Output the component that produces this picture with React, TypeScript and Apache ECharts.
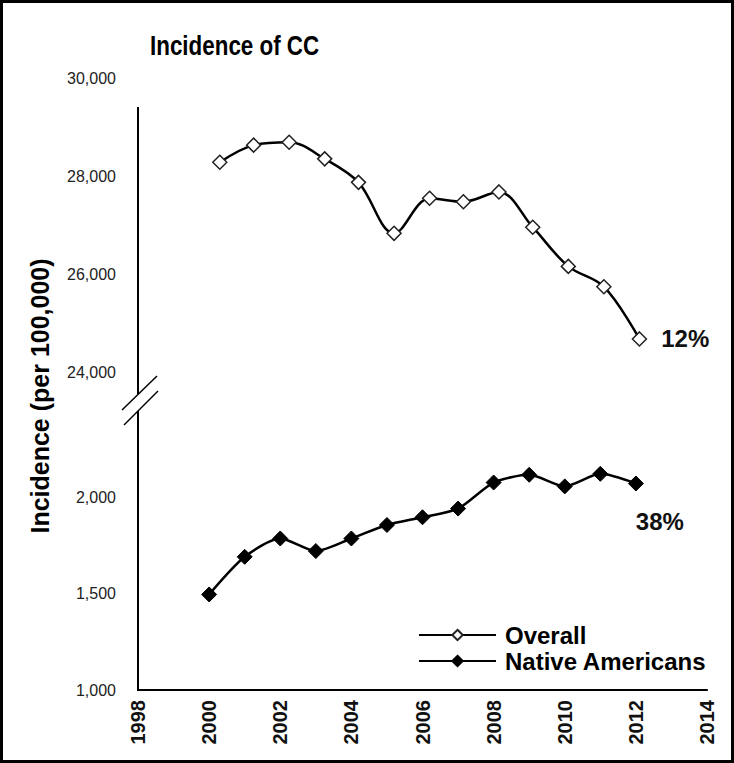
import React, { useEffect, useRef } from "react";
import * as echarts from "echarts";

const years = [2000, 2001, 2002, 2003, 2004, 2005, 2006, 2007, 2008, 2009, 2010, 2011, 2012];
const overallYears = [2000.3, 2001.25, 2002.25, 2003.25, 2004.2, 2005.2, 2006.2, 2007.15, 2008.15, 2009.1, 2010.1, 2011.1, 2012.1];
const overallValues = [28280, 28630, 28690, 28350, 27870, 26830, 27545, 27475, 27675, 26955, 26155, 25740, 24675];
const nativeValues = [1495, 1690, 1785, 1720, 1785, 1855, 1895, 1940, 2075, 2115, 2055, 2120, 2070];
const overallChange = "12%";
const nativeChange = "38%";
const seriesNames = ["Overall", "Native Americans"];
const titleText = "Incidence of CC";
const yAxisTitle = "Incidence (per 100,000)";

const FONT = "'Liberation Sans', Arial, sans-serif";

export default function App() {
  const ref = useRef<HTMLDivElement>(null);
  useEffect(() => {
    if (!ref.current) return;
    const chart = echarts.init(ref.current, undefined, { renderer: "svg" });
    const last = overallValues.length - 1;
    const overallData = overallValues.map((v, i) =>
      i === last
        ? {
            value: [overallYears[i], v],
            label: {
              show: true,
              position: "right",
              distance: 14,
              formatter: overallChange,
              fontFamily: FONT,
              fontWeight: "bold",
              fontSize: 24,
              color: "#111",
            },
          }
        : [overallYears[i], v]
    );
    const nativeData = nativeValues.map((v, i) =>
      i === last
        ? {
            value: [years[i], v],
            label: {
              show: true,
              position: "bottom",
              distance: 18,
              offset: [24, 0],
              formatter: nativeChange,
              fontFamily: FONT,
              fontWeight: "bold",
              fontSize: 24,
              color: "#111",
            },
          }
        : [years[i], v]
    );
    const xCommon = {
      type: "value",
      min: 1998,
      max: 2014,
      interval: 2,
      splitLine: { show: false },
      axisTick: { show: false },
    };
    const yLabel = {
      fontFamily: FONT,
      fontSize: 16,
      color: "#222",
      margin: 22,
      formatter: (v: number) => v.toLocaleString("en-US"),
    };
    chart.setOption({
      animation: false,
      backgroundColor: "#fff",
      legend: {
        orient: "vertical",
        left: 413,
        top: 618,
        itemWidth: 77,
        itemHeight: 13,
        itemGap: 2,
        textStyle: {
          fontFamily: FONT,
          fontWeight: "bold",
          fontSize: 24,
          lineHeight: 23,
          color: "#000",
          padding: [0, 0, 0, 4],
        },
        data: seriesNames,
      },
      grid: [
        { left: 138, right: 27, top: 78, height: 294 },
        { left: 138, right: 27, top: 400.5, height: 289.5 },
      ],
      xAxis: [
        { ...xCommon, gridIndex: 0, show: false },
        {
          ...xCommon,
          gridIndex: 1,
          axisLine: { show: true, lineStyle: { color: "#000", width: 2 } },
          axisLabel: {
            rotate: 90,
            fontFamily: FONT,
            fontWeight: "bold",
            fontSize: 20,
            color: "#111",
            margin: 10,
            formatter: (v: number) => String(v),
          },
        },
      ],
      yAxis: [
        {
          type: "value",
          gridIndex: 0,
          min: 24000,
          max: 30000,
          interval: 2000,
          axisLine: { show: false },
          axisTick: { show: false },
          splitLine: { show: false },
          axisLabel: yLabel,
        },
        {
          type: "value",
          gridIndex: 1,
          min: 1000,
          max: 2500,
          interval: 500,
          axisLine: { show: false },
          axisTick: { show: false },
          splitLine: { show: false },
          axisLabel: { ...yLabel, showMaxLabel: false },
        },
      ],
      series: [
        {
          name: seriesNames[0],
          type: "line",
          xAxisIndex: 0,
          yAxisIndex: 0,
          data: overallData,
          smooth: 0.35,
          symbol: "diamond",
          symbolSize: 14,
          lineStyle: { color: "#000", width: 2.5 },
          itemStyle: { color: "#fff", borderColor: "#222", borderWidth: 1.5 },
          z: 3,
        },
        {
          name: seriesNames[1],
          type: "line",
          xAxisIndex: 1,
          yAxisIndex: 1,
          data: nativeData,
          smooth: 0.25,
          symbol: "diamond",
          symbolSize: 15,
          lineStyle: { color: "#000", width: 2.5 },
          itemStyle: { color: "#000", borderColor: "#000", borderWidth: 1 },
          clip: false,
          z: 3,
        },
      ],
      graphic: [
        {
          type: "rect",
          shape: { x: 1.5, y: 1.5, width: 731, height: 760 },
          style: { fill: "none", stroke: "#000", lineWidth: 3 },
          silent: true,
        },
        {
          type: "text",
          x: 150,
          y: 45,
          scaleX: 0.8,
          style: {
            text: titleText,
            fontFamily: FONT,
            fontWeight: "bold",
            fontSize: 28,
            fill: "#000",
            align: "left",
            verticalAlign: "middle",
          },
        },
        {
          type: "line",
          shape: { x1: 138, y1: 107, x2: 138, y2: 394 },
          style: { stroke: "#000", lineWidth: 2 },
        },
        {
          type: "line",
          shape: { x1: 138, y1: 411, x2: 138, y2: 691 },
          style: { stroke: "#000", lineWidth: 2 },
        },
        {
          type: "line",
          shape: { x1: 122, y1: 410, x2: 157, y2: 376 },
          style: { stroke: "#000", lineWidth: 1.5 },
        },
        {
          type: "line",
          shape: { x1: 124, y1: 425, x2: 158, y2: 391 },
          style: { stroke: "#000", lineWidth: 1.5 },
        },
        {
          type: "text",
          x: 40,
          y: 396,
          rotation: Math.PI / 2,
          style: {
            text: yAxisTitle,
            fontFamily: FONT,
            fontWeight: "bold",
            fontSize: 25,
            fill: "#000",
            align: "center",
            verticalAlign: "middle",
          },
        },
      ],
    });
    return () => chart.dispose();
  }, []);
  return (
    <div
      ref={ref}
      style={{ position: "fixed", left: 0, top: 0, width: 734, height: 763 }}
    />
  );
}
